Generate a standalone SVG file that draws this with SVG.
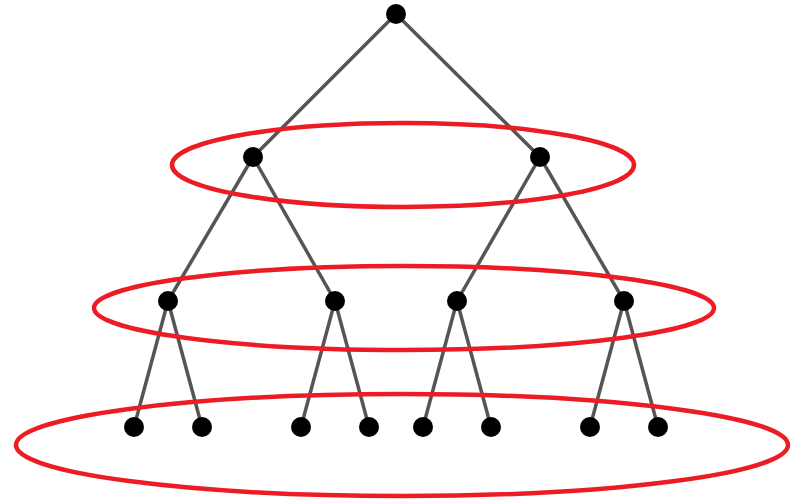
<svg xmlns="http://www.w3.org/2000/svg" width="796" height="500" viewBox="0 0 796 500">
<style>
.e{fill:none;stroke:#ec1c24;stroke-width:4.5}
.c line{stroke:#555;stroke-width:3.5}
.n circle{fill:#000}
</style>
<rect width="796" height="500" fill="#fff"/>
<g id="connectors" class="c">
<line x1="396" y1="14" x2="253" y2="157"/>
<line x1="396" y1="14" x2="540" y2="157"/>
<line x1="253" y1="157" x2="168" y2="301"/>
<line x1="253" y1="157" x2="335" y2="301"/>
<line x1="540" y1="157" x2="457" y2="301"/>
<line x1="540" y1="157" x2="624" y2="301"/>
<line x1="168" y1="301" x2="134" y2="427"/>
<line x1="168" y1="301" x2="202" y2="427"/>
<line x1="335" y1="301" x2="301" y2="427"/>
<line x1="335" y1="301" x2="369" y2="427"/>
<line x1="457" y1="301" x2="423" y2="427"/>
<line x1="457" y1="301" x2="491" y2="427"/>
<line x1="624" y1="301" x2="590" y2="427"/>
<line x1="624" y1="301" x2="658" y2="427"/>
</g>
<g id="levels">
<ellipse class="e" cx="403" cy="165" rx="231" ry="42"/>
<ellipse class="e" cx="404" cy="308" rx="310" ry="42"/>
<ellipse class="e" cx="402" cy="445" rx="386" ry="51"/>
</g>
<g class="n">
<g id="n0"><circle cx="396" cy="14" r="10"/></g>
<g id="n1"><circle cx="253" cy="157" r="10"/></g>
<g id="n2"><circle cx="540" cy="157" r="10"/></g>
<g id="n3"><circle cx="168" cy="301" r="10"/></g>
<g id="n4"><circle cx="335" cy="301" r="10"/></g>
<g id="n5"><circle cx="457" cy="301" r="10"/></g>
<g id="n6"><circle cx="624" cy="301" r="10"/></g>
<g id="n7"><circle cx="134" cy="427" r="10"/></g>
<g id="n8"><circle cx="202" cy="427" r="10"/></g>
<g id="n9"><circle cx="301" cy="427" r="10"/></g>
<g id="n10"><circle cx="369" cy="427" r="10"/></g>
<g id="n11"><circle cx="423" cy="427" r="10"/></g>
<g id="n12"><circle cx="491" cy="427" r="10"/></g>
<g id="n13"><circle cx="590" cy="427" r="10"/></g>
<g id="n14"><circle cx="658" cy="427" r="10"/></g>
</g>
</svg>
